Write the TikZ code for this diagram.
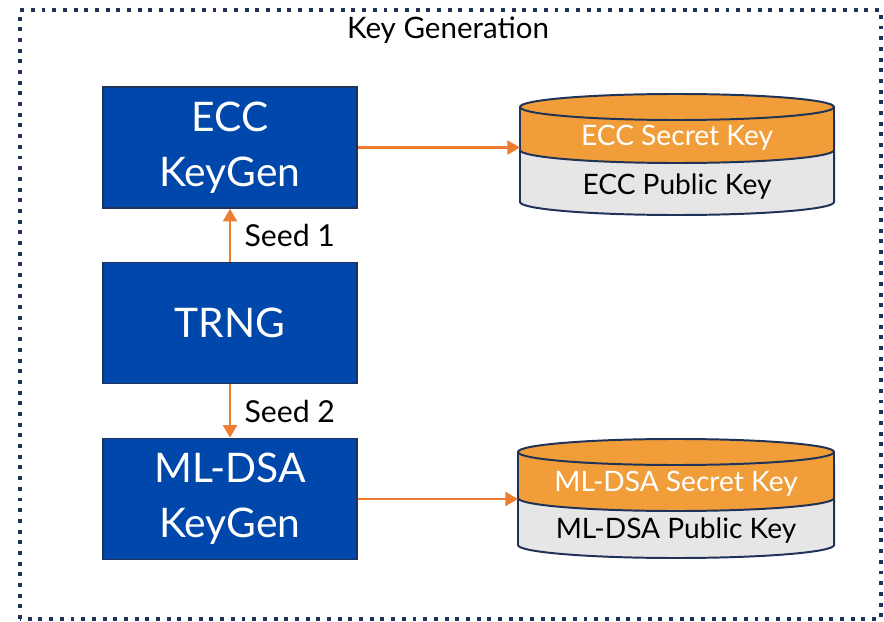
\documentclass[tikz,border=0pt]{standalone}
\usepackage{fontspec}
\setmainfont{Lato}
\usetikzlibrary{positioning,arrows.meta}
\definecolor{boxblue}{RGB}{0,71,171}
\definecolor{navy}{RGB}{31,50,88}
\definecolor{seedorange}{RGB}{237,125,49}
\definecolor{secretorange}{RGB}{241,158,58}
\definecolor{publicgrey}{RGB}{231,230,230}
\tikzset{
  genbox/.style={draw=navy, line width=1pt, fill=boxblue, text=white,
    minimum width=6.35cm, minimum height=3.03cm, align=center,
    font=\fontsize{29}{39}\selectfont},
  flow/.style={draw=seedorange, line width=1.5pt, -{Triangle[width=10pt,length=9pt]}},
  keyline/.style={draw=navy, line width=1.4pt},
  keytext/.style={font=\fontsize{20}{22}\selectfont},
  seedtext/.style={font=\fontsize{21.5}{24}\selectfont},
}
\begin{document}
\begin{tikzpicture}[x=0.025cm,y=0.025cm]
  \useasboundingbox (0,0) rectangle (884,621);
  \draw[navy, line width=2.8pt, dash pattern=on 2.8pt off 4.8pt] (20,2) rectangle (881,611);
  \node[font=\fontsize{21}{24}\selectfont] (title) at (448,591) {Key Generation};

  % generators
  \node[genbox] (ecc) at (230,473.5) {ECC\\KeyGen};
  \node[genbox] (trng) at (230,298) {TRNG};
  \node[genbox] (mldsa) at (230,122) {ML-DSA\\KeyGen};

  % ECC key store
  \begin{scope}[x radius=3.925cm, y radius=0.325cm]
    \fill[publicgrey] (520,471) -- (520,419) arc[start angle=180,end angle=360] -- (834,471) -- cycle;
    \fill[secretorange] (520,514) arc[start angle=180,end angle=0] -- (834,471)
      arc[start angle=0,end angle=-180] -- cycle;
    \draw[keyline] (677,514) ellipse [x radius=3.925cm, y radius=0.325cm];
    \draw[keyline] (520,514) -- (520,419) arc[start angle=180,end angle=360] -- (834,514);
    \draw[keyline] (520,471) arc[start angle=180,end angle=360];
  \end{scope}
  \node[keytext, text=white] (eccsecret) at (677,483) {ECC Secret Key};
  \node[keytext] (eccpublic) at (677,434) {ECC Public Key};
  \coordinate (eccstore) at (520,473.5);

  % ML-DSA key store
  \begin{scope}[x radius=3.95cm, y radius=0.325cm]
    \fill[publicgrey] (518,123) -- (518,76) arc[start angle=180,end angle=360] -- (834,123) -- cycle;
    \fill[secretorange] (518,169) arc[start angle=180,end angle=0] -- (834,123)
      arc[start angle=0,end angle=-180] -- cycle;
    \draw[keyline] (676,169) ellipse [x radius=3.95cm, y radius=0.325cm];
    \draw[keyline] (518,169) -- (518,76) arc[start angle=180,end angle=360] -- (834,169);
    \draw[keyline] (518,123) arc[start angle=180,end angle=360];
  \end{scope}
  \node[keytext, text=white] (mldsasecret) at (676,137) {ML-DSA Secret Key};
  \node[keytext] (mldsapublic) at (676,90) {ML-DSA Public Key};
  \coordinate (mldsastore) at (518,122);

  % seeds and keys
  \draw[flow] (trng) -- (ecc) node[seedtext, midway, right=0.22cm] {Seed 1};
  \draw[flow] (trng) -- (mldsa) node[seedtext, midway, right=0.22cm] {Seed 2};
  \draw[flow] (ecc) -- (eccstore);
  \draw[flow] (mldsa) -- (mldsastore);
\end{tikzpicture}
\end{document}
